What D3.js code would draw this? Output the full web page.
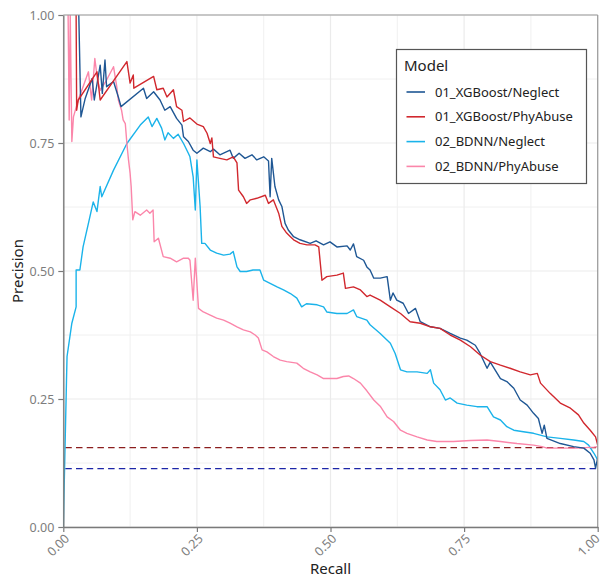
<!DOCTYPE html>
<html><head><meta charset="utf-8">
<script src="https://cdn.jsdelivr.net/npm/d3@7"></script>
<style>body{margin:0;background:#fff}svg{display:block}text{font-family:"Noto Sans",sans-serif}</style>
</head><body><svg id="c" width="603" height="579"></svg>
<script>
const seriesNames = ["01_XGBoost/Neglect","01_XGBoost/PhyAbuse","02_BDNN/Neglect","02_BDNN/PhyAbuse"];
const xTicks = [0,0.25,0.5,0.75,1];
const yTicks = [0,0.25,0.5,0.75,1];
const baselineValues = [0.155, 0.114];

const xgbNeglectRecall = [0.029,0.033,0.041,0.054,0.058,0.069,0.073,0.078,0.081,0.094,0.103,0.108,0.150,0.156,0.169,0.181,0.190,0.200,0.212,0.222,0.225,0.234,0.243,0.250,0.262,0.275,0.281,0.293,0.312,0.318,0.329,0.340,0.353,0.362,0.375,0.384,0.387,0.390,0.396,0.403,0.409,0.415,0.421,0.431,0.443,0.462,0.473,0.487,0.499,0.512,0.531,0.537,0.543,0.549,0.562,0.568,0.574,0.581,0.593,0.606,0.612,0.617,0.624,0.636,0.646,0.659,0.668,0.687,0.705,0.724,0.743,0.755,0.771,0.780,0.793,0.799,0.818,0.830,0.843,0.855,0.868,0.880,0.889,0.896,0.900,0.905,0.930,0.955,0.974,0.986,0.993,0.996,1.000];
const xgbNeglectPrecision = [1.000,0.801,0.837,0.876,0.834,0.902,0.847,0.912,0.860,0.870,0.840,0.821,0.857,0.837,0.850,0.834,0.814,0.821,0.798,0.785,0.762,0.753,0.736,0.730,0.740,0.733,0.738,0.727,0.736,0.720,0.730,0.720,0.727,0.717,0.723,0.715,0.645,0.720,0.665,0.639,0.626,0.593,0.580,0.567,0.561,0.554,0.559,0.551,0.557,0.547,0.549,0.541,0.553,0.528,0.521,0.508,0.502,0.486,0.486,0.489,0.443,0.457,0.443,0.437,0.417,0.427,0.401,0.391,0.388,0.378,0.369,0.365,0.355,0.339,0.310,0.322,0.290,0.284,0.271,0.248,0.238,0.222,0.212,0.183,0.199,0.173,0.163,0.157,0.154,0.144,0.131,0.115,0.135];

const xgbPhyRecall = [0.024,0.025,0.028,0.063,0.069,0.119,0.125,0.131,0.132,0.169,0.175,0.187,0.194,0.206,0.212,0.222,0.225,0.237,0.250,0.262,0.269,0.275,0.278,0.281,0.293,0.306,0.318,0.325,0.328,0.337,0.343,0.350,0.362,0.378,0.384,0.393,0.403,0.409,0.418,0.425,0.431,0.443,0.456,0.471,0.478,0.484,0.493,0.512,0.524,0.528,0.543,0.556,0.568,0.574,0.593,0.612,0.631,0.649,0.668,0.687,0.705,0.724,0.743,0.762,0.780,0.799,0.818,0.836,0.855,0.874,0.887,0.893,0.911,0.930,0.949,0.964,0.974,0.986,0.996,1.000];
const xgbPhyPrecision = [1.000,0.814,0.834,0.889,0.834,0.909,0.867,0.883,0.857,0.880,0.854,0.857,0.840,0.854,0.821,0.814,0.792,0.799,0.787,0.782,0.769,0.749,0.760,0.723,0.720,0.717,0.723,0.711,0.658,0.645,0.632,0.639,0.642,0.648,0.632,0.639,0.613,0.587,0.574,0.567,0.561,0.554,0.551,0.551,0.547,0.482,0.489,0.492,0.496,0.466,0.469,0.463,0.450,0.453,0.443,0.430,0.417,0.401,0.398,0.391,0.388,0.375,0.365,0.352,0.336,0.323,0.316,0.310,0.303,0.297,0.300,0.281,0.261,0.242,0.232,0.219,0.203,0.189,0.176,0.160];

const bdnnNeglectRecall = [0,0.006,0.007,0.016,0.024,0.024,0.031,0.037,0.047,0.056,0.063,0.069,0.072,0.094,0.119,0.144,0.159,0.166,0.175,0.184,0.190,0.196,0.206,0.215,0.225,0.234,0.237,0.243,0.247,0.250,0.256,0.259,0.265,0.275,0.287,0.300,0.312,0.318,0.325,0.331,0.343,0.355,0.368,0.375,0.387,0.400,0.412,0.425,0.437,0.446,0.455,0.475,0.487,0.493,0.512,0.531,0.543,0.549,0.568,0.574,0.593,0.612,0.621,0.627,0.631,0.643,0.662,0.681,0.687,0.693,0.705,0.715,0.724,0.737,0.755,0.774,0.793,0.805,0.818,0.830,0.843,0.861,0.880,0.905,0.930,0.955,0.974,0.983,0.993,1.000];
const bdnnNeglectPrecision = [0,0.287,0.333,0.398,0.430,0.502,0.502,0.547,0.593,0.635,0.616,0.665,0.645,0.697,0.749,0.785,0.801,0.782,0.798,0.779,0.756,0.770,0.759,0.767,0.749,0.730,0.723,0.684,0.619,0.717,0.626,0.554,0.554,0.541,0.535,0.531,0.533,0.538,0.508,0.499,0.499,0.502,0.502,0.482,0.476,0.469,0.463,0.456,0.447,0.430,0.436,0.434,0.430,0.420,0.417,0.417,0.424,0.411,0.404,0.395,0.378,0.359,0.339,0.320,0.307,0.303,0.303,0.300,0.307,0.281,0.268,0.248,0.252,0.242,0.238,0.235,0.235,0.215,0.209,0.196,0.189,0.186,0.183,0.176,0.173,0.170,0.167,0.160,0.144,0.131];

const bdnnPhyRecall = [0.009,0.011,0.013,0.016,0.019,0.028,0.037,0.047,0.053,0.059,0.064,0.069,0.081,0.094,0.100,0.103,0.109,0.112,0.116,0.119,0.122,0.125,0.127,0.130,0.134,0.144,0.156,0.162,0.168,0.170,0.178,0.187,0.200,0.212,0.225,0.234,0.237,0.243,0.247,0.253,0.262,0.275,0.287,0.300,0.312,0.325,0.337,0.350,0.359,0.365,0.372,0.381,0.393,0.406,0.418,0.437,0.449,0.462,0.475,0.487,0.512,0.524,0.534,0.543,0.556,0.568,0.581,0.593,0.606,0.618,0.631,0.643,0.662,0.681,0.699,0.730,0.762,0.793,0.818,0.849,0.880,0.896,0.905,0.961,0.993,1.000];
const bdnnPhyPrecision = [1.000,0.795,1.000,0.753,0.801,0.834,0.860,0.889,0.834,0.915,0.873,0.853,0.873,0.899,0.860,0.834,0.814,0.795,0.788,0.749,0.717,0.691,0.665,0.600,0.616,0.609,0.619,0.613,0.619,0.557,0.564,0.528,0.525,0.518,0.525,0.525,0.521,0.443,0.525,0.427,0.420,0.414,0.408,0.404,0.398,0.391,0.385,0.381,0.375,0.369,0.346,0.342,0.333,0.326,0.323,0.320,0.310,0.303,0.297,0.290,0.290,0.294,0.295,0.290,0.281,0.266,0.248,0.236,0.215,0.206,0.189,0.183,0.176,0.170,0.167,0.167,0.169,0.170,0.167,0.163,0.160,0.157,0.154,0.154,0.156,0.157];

const seriesColors = ["#1f5794","#d1282e","#1ab3ea","#fb86aa"];
const baselineColors = ["#8b1d1d","#1c26a8"];

const series = [
  {name: seriesNames[0], r: xgbNeglectRecall, p: xgbNeglectPrecision},
  {name: seriesNames[1], r: xgbPhyRecall, p: xgbPhyPrecision},
  {name: seriesNames[2], r: bdnnNeglectRecall, p: bdnnNeglectPrecision},
  {name: seriesNames[3], r: bdnnPhyRecall, p: bdnnPhyPrecision}
];

const svg = d3.select("#c");
const L = 63.3, R = 597.7, T = 15, B = 527;
const x = d3.scaleLinear().domain([0,1]).range([L,R]);
const y = d3.scaleLinear().domain([0,1]).range([B,T]);

// grid
const g = svg.append("g");
const minor = [0.125,0.375,0.625,0.875];
g.selectAll(".vmin").data(minor).enter().append("line").attr("x1",d=>x(d)).attr("x2",d=>x(d)).attr("y1",T).attr("y2",B).attr("stroke","#f0f0f0").attr("stroke-width",1);
g.selectAll(".hmin").data(minor).enter().append("line").attr("y1",d=>y(d)).attr("y2",d=>y(d)).attr("x1",L).attr("x2",R).attr("stroke","#f0f0f0").attr("stroke-width",1);
g.selectAll(".vmaj").data(xTicks).enter().append("line").attr("x1",d=>x(d)).attr("x2",d=>x(d)).attr("y1",T).attr("y2",B).attr("stroke","#ebebeb").attr("stroke-width",1.2);
g.selectAll(".hmaj").data(yTicks).enter().append("line").attr("y1",d=>y(d)).attr("y2",d=>y(d)).attr("x1",L).attr("x2",R).attr("stroke","#ebebeb").attr("stroke-width",1.2);

// baselines
svg.selectAll(".base").data(baselineValues).enter().append("line")
  .attr("x1",x(0)+2).attr("x2",x(1)).attr("y1",d=>y(d)).attr("y2",d=>y(d))
  .attr("stroke",(d,i)=>baselineColors[i]).attr("stroke-width",1.3).attr("stroke-dasharray","6.5,4.2");

// lines
const line = d3.line().x(d=>x(d[0])).y(d=>y(d[1]));
svg.append("defs").append("clipPath").attr("id","clip").append("rect").attr("x",L).attr("y",T).attr("width",R-L).attr("height",B-T);
const order = [2,3,0,1];
order.forEach(i=>{
  const s = series[i];
  const pts = s.r.map((rv,k)=>[rv,s.p[k]]);
  svg.append("path").attr("d",line(pts)).attr("fill","none").attr("stroke",seriesColors[i])
    .attr("stroke-width",1.4).attr("stroke-linejoin","round").attr("clip-path","url(#clip)");
});

// panel border
svg.append("line").attr("x1",L).attr("x2",R).attr("y1",T).attr("y2",T).attr("stroke","#9a9a9a").attr("stroke-width",1.2);
svg.append("line").attr("x1",R).attr("x2",R).attr("y1",T).attr("y2",B).attr("stroke","#9a9a9a").attr("stroke-width",1.2);

// axes
const xAxis = d3.axisBottom(x).tickValues(xTicks).tickFormat(d3.format(".2f")).tickSize(5).tickSizeOuter(0);
const yAxis = d3.axisLeft(y).tickValues(yTicks).tickFormat(d3.format(".2f")).tickSize(5).tickSizeOuter(0);
const gx = svg.append("g").attr("transform",`translate(0,${B})`).call(xAxis);
const gy = svg.append("g").attr("transform",`translate(${L},0)`).call(yAxis);
[gx,gy].forEach(a=>{
  a.select(".domain").attr("stroke","#7a7a7a").attr("stroke-width",1.4);
  a.selectAll(".tick line").attr("stroke","#7a7a7a").attr("stroke-width",1.2);
  a.selectAll("text").attr("fill","#7d7d7d").style("font-size","12.5px").style("font-family","Noto Sans, sans-serif");
});
gy.selectAll("text").attr("x",-9).attr("dy","0.36em");
gx.selectAll("text").attr("text-anchor","end").attr("dy","0.72em").attr("y",0)
  .attr("transform",(d,i)=> i===xTicks.length-1 ? "translate(-4,6) rotate(-45)" : "translate(0,6) rotate(-45)");

// axis titles
svg.append("text").attr("x",(L+R)/2).attr("y",574).attr("text-anchor","middle").attr("fill","#222").style("font-size","15px").text("Recall");
svg.append("text").attr("transform","translate(23,271) rotate(-90)").attr("text-anchor","middle").attr("fill","#222").style("font-size","15px").text("Precision");

// legend
const lg = svg.append("g");
lg.append("rect").attr("x",396.5).attr("y",49.5).attr("width",190).attr("height",134).attr("fill","#fff").attr("stroke","#555").attr("stroke-width",1.2);
lg.append("text").attr("x",404).attr("y",71).attr("fill","#222").style("font-size","15px").text("Model");
seriesNames.forEach((n,i)=>{
  const yy = 92 + i*24.8;
  lg.append("line").attr("x1",406.5).attr("x2",425).attr("y1",yy).attr("y2",yy).attr("stroke",seriesColors[i]).attr("stroke-width",1.6);
  lg.append("text").attr("x",435).attr("y",yy).attr("dy","0.36em").attr("fill","#222").style("font-size","13px").text(n);
});
</script></body></html>
